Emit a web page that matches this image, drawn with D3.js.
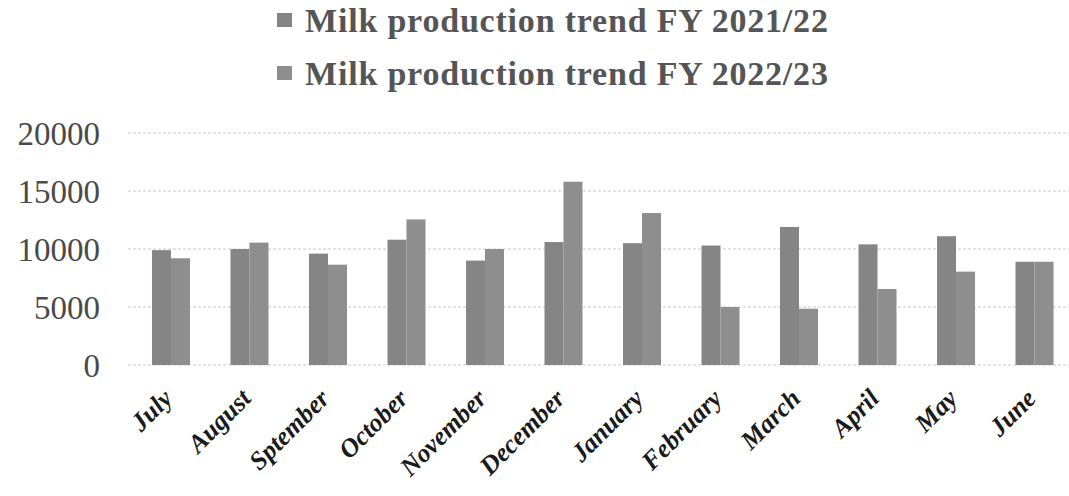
<!DOCTYPE html>
<html>
<head>
<meta charset="utf-8">
<script src="https://cdn.jsdelivr.net/npm/d3@7"></script>
<style>
  html, body { margin: 0; padding: 0; background: #fff; }
  svg { display: block; }
</style>
</head>
<body>
<svg id="chart" width="1069" height="496"></svg>
<script>
const months = ["July", "August", "Sptember", "October", "November", "December",
                "January", "February", "March", "April", "May", "June"];
const seriesNames = ["Milk production trend FY 2021/22", "Milk production trend FY 2022/23"];
const fy2122 = [9900, 10000, 9600, 10800, 9000, 10600, 10500, 10300, 11900, 10400, 11100, 8900];
const fy2223 = [9200, 10550, 8650, 12550, 10000, 15800, 13100, 5000, 4850, 6550, 8050, 8900];
const yTicks = [0, 5000, 10000, 15000, 20000];

const colors = ["#858585", "#8e8e8e"];
const svg = d3.select("#chart");

const x = d3.scaleBand().domain(months).range([130, 1075.5]).paddingInner(0.516).paddingOuter(0.28);
const x1 = d3.scaleBand().domain([0, 1]).range([0, x.bandwidth()]);
const y = d3.scaleLinear().domain([0, 20000]).range([365, 133]);

// gridlines
svg.append("g").selectAll("line").data(yTicks).join("line")
  .attr("x1", 128).attr("x2", 1069)
  .attr("y1", d => y(d)).attr("y2", d => y(d))
  .attr("stroke", "#c8c8c8").attr("stroke-width", 1).attr("stroke-dasharray", "3,2");

// y axis labels
const yAxis = d3.axisLeft(y).tickValues(yTicks).tickSize(0).tickPadding(0).tickFormat(d3.format("d"));
const yg = svg.append("g").attr("transform", "translate(100,0)").call(yAxis);
yg.select(".domain").remove();
yg.selectAll("text")
  .attr("font-family", "'Liberation Serif', serif")
  .attr("font-size", 33).attr("fill", "#4a4a4a").attr("dy", "0.34em");

// bars
const series = [fy2122, fy2223];
series.forEach((vals, si) => {
  svg.append("g").selectAll("rect").data(vals).join("rect")
    .attr("x", (d, i) => x(months[i]) + x1(si))
    .attr("width", x1.bandwidth())
    .attr("y", d => y(d))
    .attr("height", d => y(0) - y(d))
    .attr("fill", colors[si]);
});

// x labels
svg.append("g").selectAll("text").data(months).join("text")
  .attr("transform", d => `translate(${x(d) + x.bandwidth() / 2 + 3},400) rotate(-45)`)
  .attr("text-anchor", "end")
  .attr("font-family", "'Liberation Serif', serif")
  .attr("font-weight", "bold").attr("font-style", "italic")
  .attr("font-size", 26).attr("fill", "#1a1a1a")
  .text(d => d);

// legend
const lg = svg.append("g");
seriesNames.forEach((name, i) => {
  const yy = 32 + i * 53;
  lg.append("rect").attr("x", 277).attr("y", yy - 19).attr("width", 15).attr("height", 14).attr("fill", colors[i]);
  lg.append("text").attr("x", 305).attr("y", yy)
    .attr("font-family", "'Liberation Serif', serif")
    .attr("font-weight", "bold").attr("font-size", 34).attr("fill", "#555")
    .attr("letter-spacing", 0.8)
    .text(name);
});
</script>
</body>
</html>
